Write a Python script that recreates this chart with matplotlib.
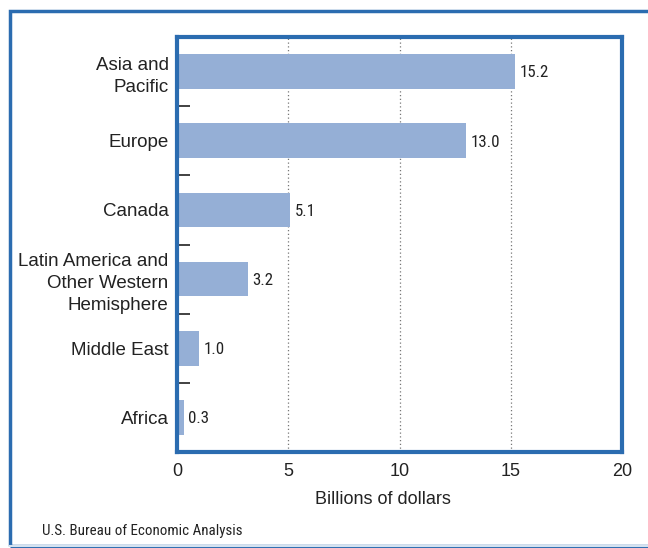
import matplotlib
matplotlib.use("Agg")
import matplotlib.pyplot as plt
from matplotlib.patches import Rectangle
from matplotlib.lines import Line2D
from matplotlib import font_manager

regions = ["Asia and\nPacific", "Europe", "Canada",
           "Latin America and\nOther Western\nHemisphere", "Middle East", "Africa"]
values = [15.2, 13.0, 5.1, 3.2, 1.0, 0.3]
xticks = [0, 5, 10, 15, 20]
xlabel = "Billions of dollars"
source = "U.S. Bureau of Economic Analysis"

BLUE = "#2B6CB0"
BAR = "#95AFD6"
TEXT = "#222222"

names = {f.name for f in font_manager.fontManager.ttflist}
narrow = "Liberation Sans"
for cand in ["Liberation Sans Narrow", "Roboto Condensed", "DejaVu Sans Condensed",
             "Open Sans Condensed", "Noto Sans Condensed"]:
    if cand in names:
        narrow = cand
        break
plt.rcParams["font.family"] = ["Liberation Sans", "DejaVu Sans"]

fig = plt.figure(figsize=(6.48, 5.48), dpi=100)
W, H = 648, 548
ax = fig.add_axes([177 / W, 1 - 452 / H, (622 - 177) / W, (452 - 37) / H])

ypos = list(range(len(regions)))
ax.barh(ypos, values, height=0.5, color=BAR, zorder=2)
for y, v in zip(ypos, values):
    ax.text(v + 0.2, y + 0.02, f"{v:.1f}", va="center", ha="left",
            fontsize=12.2, family=narrow, color=TEXT)

ax.set_xlim(0, 20)
ax.set_ylim(len(regions) - 0.5, -0.5)
ax.set_xticks(xticks)
ax.set_xticklabels([str(t) for t in xticks], fontsize=13, color=TEXT)
ax.set_yticks(ypos)
ax.set_yticklabels(regions, fontsize=13.5, color=TEXT, linespacing=1.38)
ax.tick_params(axis="both", length=0, pad=6)
ax.tick_params(axis="x", pad=8)
ax.set_yticks([i + 0.5 for i in ypos[:-1]], minor=True)
ax.tick_params(axis="y", which="minor", direction="in", length=9,
               width=1.3, color="#333333")
ax.set_xlabel(xlabel, fontsize=13, color=TEXT, labelpad=10)
ax.xaxis.set_label_coords((383 - 177) / (622 - 177), -0.095)

for x in xticks[1:-1]:
    ax.axvline(x, color="#777777", lw=0.9, ls=(0, (1, 2)), zorder=1)

for s in ax.spines.values():
    s.set_color(BLUE)
    s.set_linewidth(3)

# outer frame around the whole graphic
fig.add_artist(Rectangle((10 / W, 1 - 546 / H), 660 / W, (546 - 11) / H,
                         transform=fig.transFigure, fill=False,
                         edgecolor=BLUE, lw=2.5))
fig.add_artist(Line2D([10 / W, 1], [1 - 546 / H] * 2, transform=fig.transFigure,
                      color="#D5E2F0", lw=1.5))

fig.text(42 / W, 1 - 531 / H, source, fontsize=10.8, family=narrow,
         color=TEXT, va="center", ha="left")

fig.savefig("out.png", dpi=100)
